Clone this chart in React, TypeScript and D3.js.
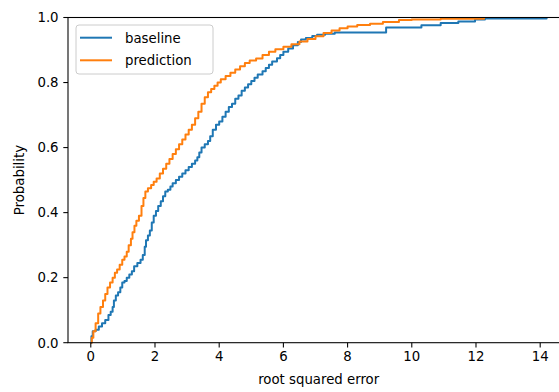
import React from "react";
import * as d3 from "d3";

const baselineX = [0, 0.02, 0.06, 0.15, 0.25, 0.35, 0.45, 0.55, 0.62, 0.68, 0.72, 0.78, 0.85, 0.92, 0.98, 1.05, 1.12, 1.2, 1.28, 1.35, 1.45, 1.55, 1.62, 1.68, 1.72, 1.78, 1.84, 1.9, 1.96, 2.03, 2.1, 2.18, 2.25, 2.32, 2.4, 2.48, 2.55, 2.65, 2.75, 2.85, 2.95, 3.05, 3.15, 3.25, 3.32, 3.38, 3.45, 3.55, 3.65, 3.72, 3.8, 3.9, 4.0, 4.1, 4.2, 4.3, 4.4, 4.5, 4.6, 4.7, 4.8, 4.9, 5.0, 5.1, 5.2, 5.35, 5.45, 5.55, 5.65, 5.8, 5.9, 6.0, 6.15, 6.3, 6.45, 6.55, 6.7, 6.9, 7.05, 7.3, 7.6, 9.2, 10.3, 10.9, 11.45, 11.97, 12.28, 14.2];
const baselineY = [0, 0.02, 0.035, 0.04, 0.05, 0.06, 0.07, 0.085, 0.095, 0.11, 0.13, 0.145, 0.155, 0.17, 0.185, 0.19, 0.2, 0.21, 0.22, 0.235, 0.245, 0.255, 0.27, 0.295, 0.315, 0.33, 0.345, 0.37, 0.39, 0.405, 0.42, 0.435, 0.45, 0.465, 0.47, 0.48, 0.49, 0.5, 0.51, 0.52, 0.53, 0.54, 0.55, 0.56, 0.57, 0.585, 0.6, 0.61, 0.62, 0.635, 0.655, 0.67, 0.68, 0.695, 0.71, 0.725, 0.735, 0.75, 0.76, 0.775, 0.785, 0.795, 0.805, 0.815, 0.825, 0.835, 0.845, 0.855, 0.865, 0.875, 0.885, 0.895, 0.905, 0.915, 0.925, 0.932, 0.937, 0.943, 0.947, 0.95, 0.954, 0.969, 0.976, 0.983, 0.988, 0.994, 0.997, 1.0];

const predictionX = [0, 0.03, 0.08, 0.15, 0.23, 0.3, 0.38, 0.45, 0.52, 0.6, 0.68, 0.75, 0.82, 0.9, 0.98, 1.05, 1.12, 1.18, 1.25, 1.3, 1.36, 1.42, 1.5, 1.58, 1.64, 1.7, 1.78, 1.88, 1.96, 2.05, 2.15, 2.25, 2.35, 2.45, 2.55, 2.65, 2.75, 2.85, 2.95, 3.05, 3.15, 3.25, 3.35, 3.45, 3.55, 3.65, 3.75, 3.85, 3.95, 4.05, 4.2, 4.35, 4.5, 4.65, 4.8, 4.95, 5.15, 5.35, 5.55, 5.75, 6.0, 6.25, 6.5, 6.75, 7.0, 7.25, 7.5, 7.75, 8.0, 8.3, 8.7, 9.1, 9.6, 10.0, 10.9, 12.25];
const predictionY = [0, 0.015, 0.035, 0.06, 0.09, 0.11, 0.13, 0.15, 0.17, 0.185, 0.2, 0.215, 0.225, 0.24, 0.255, 0.265, 0.28, 0.3, 0.32, 0.34, 0.36, 0.375, 0.39, 0.42, 0.445, 0.465, 0.475, 0.485, 0.495, 0.505, 0.52, 0.535, 0.55, 0.565, 0.58, 0.595, 0.61, 0.625, 0.64, 0.655, 0.67, 0.69, 0.71, 0.735, 0.755, 0.77, 0.78, 0.79, 0.8, 0.81, 0.82, 0.83, 0.84, 0.85, 0.86, 0.868, 0.874, 0.885, 0.895, 0.902, 0.91, 0.918, 0.926, 0.934, 0.942, 0.952, 0.96, 0.967, 0.972, 0.977, 0.981, 0.986, 0.992, 0.994, 0.996, 1.0];

const xTicks = [0, 2, 4, 6, 8, 10, 12, 14];
const yTicks = [0, 0.2, 0.4, 0.6, 0.8, 1.0];
const seriesNames = ["baseline", "prediction"];
const colors = ["#1f77b4", "#ff7f0e"];

export default function App() {
  const W = 559, H = 392;
  const left = 68, right = 569.4, top = 17.5, bottom = 342.7;
  const x = d3.scaleLinear().domain([-0.71, 14.91]).range([left, right]);
  const y = d3.scaleLinear().domain([0, 1]).range([bottom, top]);
  const line = d3
    .line<[number, number]>()
    .x((d) => x(d[0]))
    .y((d) => y(d[1]))
    .curve(d3.curveStepAfter);
  const series = [
    baselineX.map((v, i) => [v, baselineY[i]] as [number, number]),
    predictionX.map((v, i) => [v, predictionY[i]] as [number, number]),
  ];
  const font = "DejaVu Sans, sans-serif";
  const fs = 13.3;
  const tl = 4.7;
  return (
    <svg width={W} height={H} style={{ position: "absolute", left: 0, top: 0 }} fontFamily={font}>
      <rect x={0} y={0} width={W} height={H} fill="#fff" />
      <defs>
        <clipPath id="plotclip">
          <rect x={left} y={top - 2} width={right - left} height={bottom - top + 4} />
        </clipPath>
      </defs>
      <g clipPath="url(#plotclip)">
        {series.map((s, i) => (
          <path key={i} d={line(s) || ""} fill="none" stroke={colors[i]} strokeWidth={2} strokeLinejoin="round" />
        ))}
      </g>
      <rect x={left} y={top} width={right - left} height={bottom - top} fill="none" stroke="#000" strokeWidth={1.07} />
      {xTicks.map((t) => (
        <g key={t}>
          <line x1={x(t)} x2={x(t)} y1={bottom} y2={bottom + tl} stroke="#000" strokeWidth={1.07} />
          <text x={x(t)} y={bottom + tl + 3.5 + 9.8} textAnchor="middle" fontSize={fs} fill="#000">
            {t}
          </text>
        </g>
      ))}
      {yTicks.map((t) => (
        <g key={t}>
          <line x1={left - tl} x2={left} y1={y(t)} y2={y(t)} stroke="#000" strokeWidth={1.07} />
          <text x={left - tl - 4.7} y={y(t) + 4.8} textAnchor="end" fontSize={fs} fill="#000">
            {t.toFixed(1)}
          </text>
        </g>
      ))}
      <text x={(left + right) / 2} y={384} textAnchor="middle" fontSize={fs} fill="#000">
        root squared error
      </text>
      <text transform={`translate(24, ${(top + bottom) / 2}) rotate(-90)`} textAnchor="middle" fontSize={fs} fill="#000">
        Probability
      </text>
      <g>
        <rect x={76} y={25} width={137} height={49} rx={3} fill="#fff" fillOpacity={0.8} stroke="#cccccc" strokeWidth={1} />
        {seriesNames.map((n, i) => (
          <g key={n}>
            <line x1={80} x2={112} y1={37.7 + i * 22.6} y2={37.7 + i * 22.6} stroke={colors[i]} strokeWidth={2} />
            <text x={125} y={42.5 + i * 22.6} fontSize={fs} fill="#000">
              {n}
            </text>
          </g>
        ))}
      </g>
    </svg>
  );
}
